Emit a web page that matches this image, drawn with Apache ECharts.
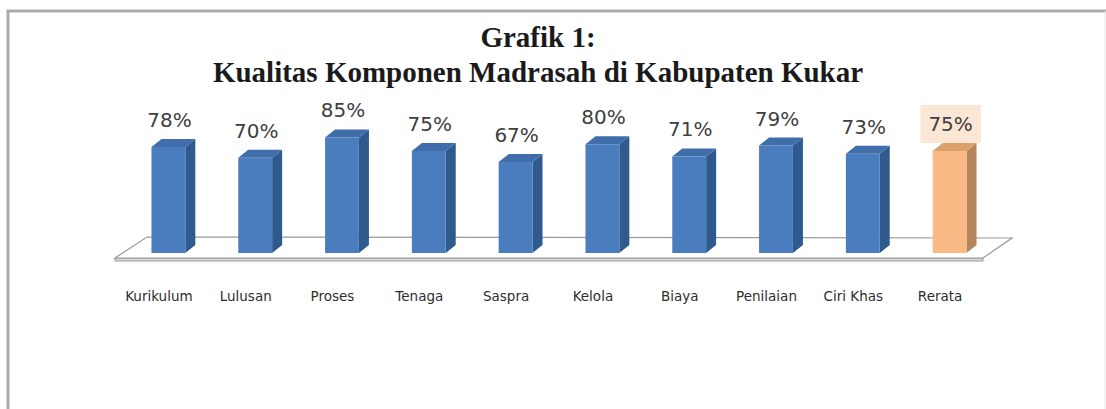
<!DOCTYPE html>
<html>
<head>
<meta charset="utf-8">
<script src="https://cdn.jsdelivr.net/npm/echarts@6/dist/echarts.min.js"></script>
<style>
html,body{margin:0;padding:0;background:#fff;}
#chart{width:1106px;height:409px;}
</style>
</head>
<body>
<div id="chart"></div>
<script>
const titleLines = ['Grafik 1:', 'Kualitas Komponen Madrasah di Kabupaten Kukar'];
const categories = ['Kurikulum', 'Lulusan', 'Proses', 'Tenaga', 'Saspra', 'Kelola', 'Biaya', 'Penilaian', 'Ciri Khas', 'Rerata'];
const values = [78, 70, 85, 75, 67, 80, 71, 79, 73, 75];
const highlightCategory = 'Rerata';

const BLUE = {front: '#4a7dbd', side: '#2e5a8e', top: '#3f6eaa'};
const ORANGE = {front: '#fbba85', side: '#b5855b', top: '#dca06c'};

const chart = echarts.init(document.getElementById('chart'), null, {renderer: 'svg'});

function floorItem(params, api) {
  const cs = params.coordSys;
  const base = api.coord([0, 0])[1];
  const L = cs.x, R = cs.x + cs.width;
  const fl = [L - 10, base + 5], bl = [L + 22, base - 16], br = [R + 19, base - 15], fr = [R - 10, base + 5];
  return {
    type: 'group',
    children: [
      {type: 'polygon', shape: {points: [fl, [fl[0], fl[1] + 3], [fr[0], fr[1] + 3], fr]},
       style: {fill: '#d9d9d9', stroke: '#9a9a9a', lineWidth: 1}},
      {type: 'polygon', shape: {points: [fl, bl, br, fr]},
       style: {fill: '#ffffff', stroke: '#9a9a9a', lineWidth: 1.2}}
    ]
  };
}

function barItem(params, api) {
  const idx = api.value(0);
  const v = api.value(1);
  const top = api.coord([idx, v]);
  const bot = api.coord([idx, 0]);
  const band = api.size([1, 0])[0];
  const w = band * 0.39;
  const dx = 10, dy = 8;
  const x0 = top[0] - w / 2, x1 = top[0] + w / 2;
  const yT = top[1], yB = bot[1];
  const hl = categories[idx] === highlightCategory;
  const c = hl ? ORANGE : BLUE;
  const children = [
    {type: 'polygon', shape: {points: [[x1, yT], [x1 + dx, yT - dy], [x1 + dx, yB - dy], [x1, yB]]}, style: {fill: c.side}},
    {type: 'polygon', shape: {points: [[x0, yT], [x0 + dx, yT - dy], [x1 + dx, yT - dy], [x1, yT]]}, style: {fill: c.top}},
    {type: 'rect', shape: {x: x0, y: yT, width: w, height: yB - yT}, style: {fill: c.front}},
    {type: 'text', x: top[0] + 1, y: yT - 27,
     style: Object.assign({
       text: v + '%', fill: '#404040', font: '20px "DejaVu Sans"',
       align: 'center', verticalAlign: 'middle'
     }, hl ? {backgroundColor: '#fce6d6', padding: [9, 8, 9, 8]} : {})}
  ];
  return {type: 'group', children: children};
}

chart.setOption({
  animation: false,
  title: {
    text: titleLines.join('\n'),
    left: 533, top: 14, textAlign: 'center',
    textStyle: {fontFamily: 'Liberation Serif', fontWeight: 'bold', fontSize: 29, lineHeight: 35, color: '#1a1a1a'}
  },
  grid: {left: 125, right: 113, top: 117, bottom: 156},
  xAxis: {
    type: 'category', data: categories,
    axisLine: {show: false}, axisTick: {show: false}, splitLine: {show: false},
    axisLabel: {interval: 0, margin: 36, fontFamily: 'DejaVu Sans', fontSize: 13.5, color: '#2e2e2e', padding: [0, 19, 0, 0]}
  },
  yAxis: {type: 'value', min: 0, max: 100, show: false},
  graphic: [
    {type: 'polyline', shape: {points: [[8, 409], [8, 11], [1106, 11]]}, style: {stroke: '#ababab', lineWidth: 3, fill: null}},
    {type: 'line', shape: {x1: 1105, y1: 11, x2: 1105, y2: 409}, style: {stroke: '#e6e6e6', lineWidth: 1}}
  ],
  series: [
    {type: 'custom', renderItem: floorItem, data: [[0]], silent: true, z: 1},
    {type: 'custom', renderItem: barItem, data: values.map((v, i) => [i, v]), z: 2,
     encode: {x: 0, y: 1}}
  ]
});
</script>
</body>
</html>
